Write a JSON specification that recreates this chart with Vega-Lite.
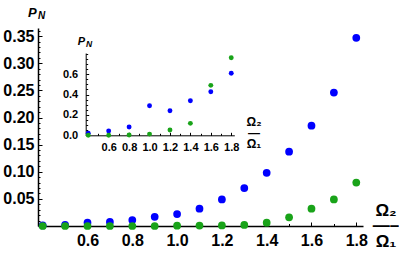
{
  "$schema": "https://vega.github.io/schema/vega-lite/v6.json",
  "autosize": "none",
  "width": 325,
  "height": 198,
  "padding": {"left": 38, "top": 28, "right": 36, "bottom": 27},
  "background": "white",
  "config": {
    "font": "Liberation Sans",
    "view": {"stroke": null},
    "axis": {"grid": false, "domainColor": "black", "tickColor": "black", "labelColor": "black", "titleColor": "black", "zindex": 1, "labelFlush": false, "labelOverlap": false}
  },
  "datasets": {
    "main": [
      {"r": 0.4, "s": "Blue", "p": 0.001}, {"r": 0.5, "s": "Blue", "p": 0.002}, {"r": 0.6, "s": "Blue", "p": 0.006},
      {"r": 0.7, "s": "Blue", "p": 0.0074}, {"r": 0.8, "s": "Blue", "p": 0.011}, {"r": 0.9, "s": "Blue", "p": 0.017},
      {"r": 1.0, "s": "Blue", "p": 0.022}, {"r": 1.1, "s": "Blue", "p": 0.032}, {"r": 1.2, "s": "Blue", "p": 0.049},
      {"r": 1.3, "s": "Blue", "p": 0.070}, {"r": 1.4, "s": "Blue", "p": 0.098}, {"r": 1.5, "s": "Blue", "p": 0.137},
      {"r": 1.6, "s": "Blue", "p": 0.185}, {"r": 1.7, "s": "Blue", "p": 0.246}, {"r": 1.8, "s": "Blue", "p": 0.347},
      {"r": 0.4, "s": "Green", "p": 0.0}, {"r": 0.5, "s": "Green", "p": 0.0}, {"r": 0.6, "s": "Green", "p": 0.0},
      {"r": 0.7, "s": "Green", "p": 0.0}, {"r": 0.8, "s": "Green", "p": 0.0}, {"r": 0.9, "s": "Green", "p": 0.0},
      {"r": 1.0, "s": "Green", "p": 0.0005}, {"r": 1.1, "s": "Green", "p": 0.0008}, {"r": 1.2, "s": "Green", "p": 0.001},
      {"r": 1.3, "s": "Green", "p": 0.002}, {"r": 1.4, "s": "Green", "p": 0.006}, {"r": 1.5, "s": "Green", "p": 0.016},
      {"r": 1.6, "s": "Green", "p": 0.032}, {"r": 1.7, "s": "Green", "p": 0.049}, {"r": 1.8, "s": "Green", "p": 0.080}
    ],
    "inset": [
      {"r": 0.4, "s": "Blue", "p": 0.02}, {"r": 0.6, "s": "Blue", "p": 0.042}, {"r": 0.8, "s": "Blue", "p": 0.081},
      {"r": 1.0, "s": "Blue", "p": 0.29}, {"r": 1.2, "s": "Blue", "p": 0.241}, {"r": 1.4, "s": "Blue", "p": 0.339},
      {"r": 1.6, "s": "Blue", "p": 0.427}, {"r": 1.8, "s": "Blue", "p": 0.608},
      {"r": 0.4, "s": "Green", "p": 0.0}, {"r": 0.6, "s": "Green", "p": 0.0}, {"r": 0.8, "s": "Green", "p": 0.003},
      {"r": 1.0, "s": "Green", "p": 0.012}, {"r": 1.2, "s": "Green", "p": 0.052}, {"r": 1.4, "s": "Green", "p": 0.117},
      {"r": 1.6, "s": "Green", "p": 0.49}, {"r": 1.8, "s": "Green", "p": 0.761}
    ]
  },
  "layer": [
    {
      "data": {"name": "main"},
      "mark": {"type": "point", "filled": true, "opacity": 1, "size": 60},
      "encoding": {
        "x": {"field": "r", "type": "quantitative",
          "scale": {"domain": [0.379, 1.83], "nice": false, "zero": false},
          "axis": {"orient": "bottom", "values": [0.6, 0.8, 1.0, 1.2, 1.4, 1.6, 1.8], "format": ".1f",
            "labelFontSize": 16, "labelFontWeight": "bold", "labelPadding": 10, "tickSize": -4, "domainWidth": 1.5,
            "title": ["Ω₂", "—–", "Ω₁"], "titleFontSize": 17, "titleFontWeight": "bold", "titleX": 347.5, "titleY": -24,
            "titleAlign": "center", "titleBaseline": "top", "titleLineHeight": 15.5, "titleAngle": 0}},
        "y": {"field": "p", "type": "quantitative",
          "scale": {"domain": [0, 0.365], "nice": false},
          "axis": {"orient": "left", "values": [0.05, 0.1, 0.15, 0.2, 0.25, 0.3, 0.35], "format": ".2f",
            "labelFontSize": 16, "labelFontWeight": "bold", "labelPadding": 8, "tickSize": -4, "domainWidth": 1.5, "title": null}},
        "color": {"field": "s", "type": "nominal", "scale": {"domain": ["Blue", "Green"], "range": ["#0000ff", "#19a319"]}, "legend": null}
      }
    },
    {
      "data": {"values": [{}]},
      "mark": {"type": "text", "text": "P", "fontSize": 13, "fontWeight": "bold", "fontStyle": "italic", "align": "left", "baseline": "alphabetic"},
      "encoding": {
        "x": {"datum": 0.3345, "type": "quantitative", "scale": {"domain": [0.379, 1.83], "nice": false, "zero": false}, "axis": null},
        "y": {"datum": 0.3853, "type": "quantitative", "scale": {"domain": [0, 0.365], "nice": false}, "axis": null}
      }
    },
    {
      "data": {"values": [{}]},
      "mark": {"type": "text", "text": "N", "fontSize": 10, "fontWeight": "bold", "fontStyle": "italic", "align": "left", "baseline": "alphabetic"},
      "encoding": {
        "x": {"datum": 0.379, "type": "quantitative", "scale": {"domain": [0.379, 1.83], "nice": false, "zero": false}, "axis": null},
        "y": {"datum": 0.3807, "type": "quantitative", "scale": {"domain": [0, 0.365], "nice": false}, "axis": null}
      }
    },
    {
      "data": {"name": "main"},
      "mark": {"type": "point", "opacity": 0},
      "encoding": {
        "x": {"field": "r", "type": "quantitative", "scale": {"domain": [0.379, 1.83], "nice": false, "zero": false},
          "axis": {"orient": "bottom", "values": [0.4, 0.5, 0.6, 0.7, 0.8, 0.9, 1.0, 1.1, 1.2, 1.3, 1.4, 1.5, 1.6, 1.7, 1.8],
            "labels": false, "domain": false, "tickSize": -2.5, "title": null}},
        "y": {"field": "p", "type": "quantitative", "scale": {"domain": [0, 0.365], "nice": false},
          "axis": {"orient": "left", "values": [0.01, 0.02, 0.03, 0.04, 0.06, 0.07, 0.08, 0.09, 0.11, 0.12, 0.13, 0.14, 0.16, 0.17, 0.18, 0.19, 0.21, 0.22, 0.23, 0.24, 0.26, 0.27, 0.28, 0.29, 0.31, 0.32, 0.33, 0.34, 0.36],
            "labels": false, "domain": false, "tickSize": -2, "title": null}}
      }
    },
    {
      "data": {"name": "inset"},
      "mark": {"type": "point", "filled": true, "opacity": 1, "size": 24},
      "encoding": {
        "x": {"field": "r", "type": "quantitative",
          "scale": {"domain": [0.375, 1.83], "range": [47.7, 196.3], "nice": false, "zero": false},
          "axis": {"orient": "bottom", "offset": -90.7, "values": [0.6, 0.8, 1.0, 1.2, 1.4, 1.6, 1.8], "format": ".1f",
            "labelFontSize": 11, "labelFontWeight": "bold", "labelPadding": 9, "tickSize": -3, "domainWidth": 1,
            "title": ["Ω₂", "—", "Ω₁"], "titleFontSize": 12, "titleFontWeight": "bold", "titleX": 215.5, "titleY": -19,
            "titleAlign": "center", "titleBaseline": "top", "titleLineHeight": 11, "titleAngle": 0}},
        "y": {"field": "p", "type": "quantitative",
          "scale": {"domain": [0, 0.807], "range": [107.3, 25], "nice": false},
          "axis": {"orient": "left", "offset": -47.7, "values": [0, 0.2, 0.4, 0.6], "format": ".1f",
            "labelFontSize": 11, "labelFontWeight": "bold", "labelPadding": 11, "tickSize": -3, "domainWidth": 1, "title": null}},
        "color": {"field": "s", "type": "nominal", "scale": {"domain": ["Blue", "Green"], "range": ["#0000ff", "#19a319"]}, "legend": null}
      }
    },
    {
      "data": {"values": [{}]},
      "mark": {"type": "text", "text": "P", "fontSize": 11, "fontWeight": "bold", "fontStyle": "italic", "align": "left", "baseline": "alphabetic"},
      "encoding": {
        "x": {"datum": 0.2966, "type": "quantitative", "scale": {"domain": [0.375, 1.83], "range": [47.7, 196.3], "nice": false, "zero": false}, "axis": null},
        "y": {"datum": 0.885, "type": "quantitative", "scale": {"domain": [0, 0.807], "range": [107.3, 25], "nice": false}, "axis": null}
      }
    },
    {
      "data": {"values": [{}]},
      "mark": {"type": "text", "text": "N", "fontSize": 8.5, "fontWeight": "bold", "fontStyle": "italic", "align": "left", "baseline": "alphabetic"},
      "encoding": {
        "x": {"datum": 0.378, "type": "quantitative", "scale": {"domain": [0.375, 1.83], "range": [47.7, 196.3], "nice": false, "zero": false}, "axis": null},
        "y": {"datum": 0.869, "type": "quantitative", "scale": {"domain": [0, 0.807], "range": [107.3, 25], "nice": false}, "axis": null}
      }
    },
    {
      "data": {"name": "inset"},
      "mark": {"type": "point", "opacity": 0},
      "encoding": {
        "x": {"field": "r", "type": "quantitative", "scale": {"domain": [0.375, 1.83], "range": [47.7, 196.3], "nice": false, "zero": false},
          "axis": {"orient": "bottom", "offset": -90.7, "values": [0.4, 0.5, 0.6, 0.7, 0.8, 0.9, 1.0, 1.1, 1.2, 1.3, 1.4, 1.5, 1.6, 1.7, 1.8],
            "labels": false, "domain": false, "tickSize": -2, "title": null}},
        "y": {"field": "p", "type": "quantitative", "scale": {"domain": [0, 0.807], "range": [107.3, 25], "nice": false},
          "axis": {"orient": "left", "offset": -47.7, "values": [0.05, 0.1, 0.15, 0.25, 0.3, 0.35, 0.45, 0.5, 0.55, 0.65, 0.7, 0.75, 0.8],
            "labels": false, "domain": false, "tickSize": -2, "title": null}}
      }
    }
  ],
  "resolve": {
    "scale": {"x": "independent", "y": "independent"},
    "axis": {"x": "independent", "y": "independent"}
  }
}
